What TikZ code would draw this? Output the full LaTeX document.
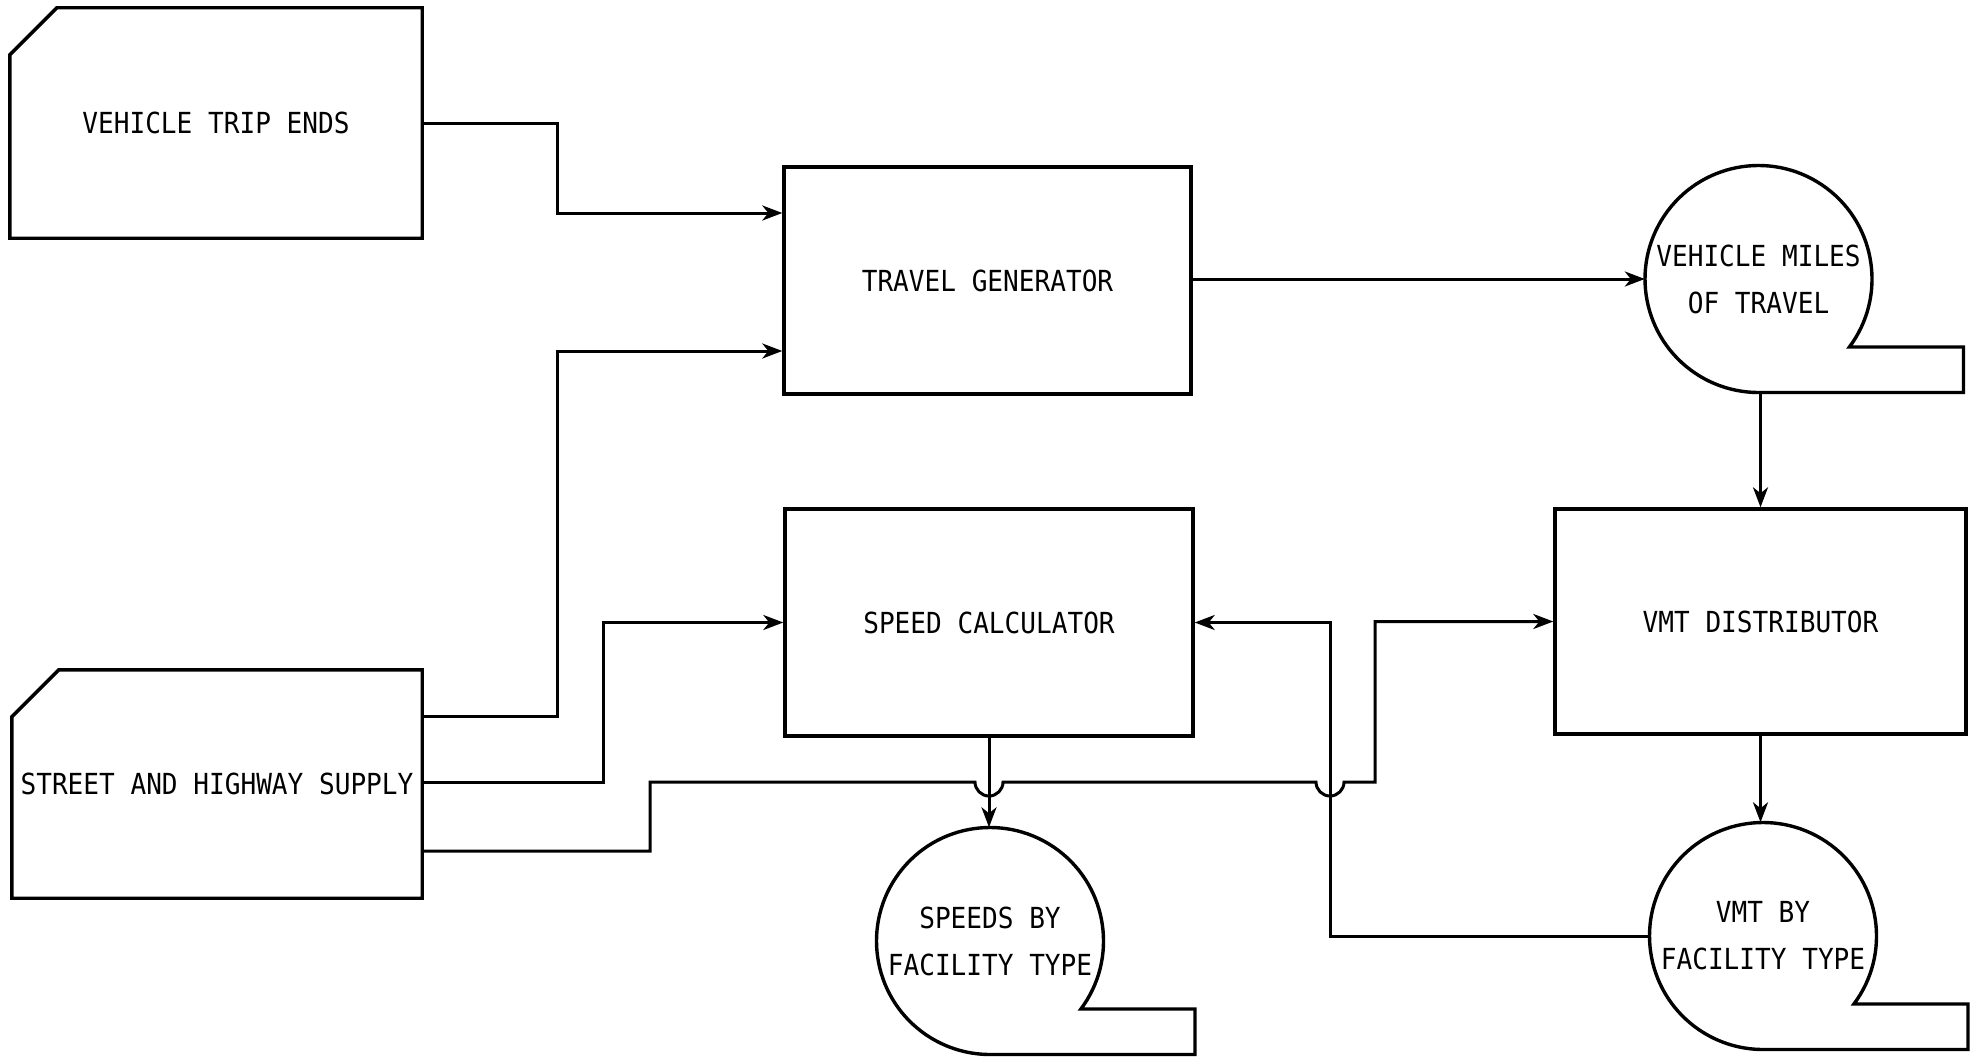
\documentclass[tikz,border=0pt]{standalone}
\usepackage{fontspec}
\newfontfamily\leroy[FakeStretch=0.9]{DejaVu Sans Mono}
\usetikzlibrary{arrows.meta,calc}
\tikzset{
  box/.style={line width=3.4pt, line join=miter, draw=black},
  conn/.style={line width=3pt, draw=black, -{Stealth[length=20pt,width=15pt,inset=6pt]}},
  lbl/.style={font=\leroy\fontsize{29}{47}\selectfont, align=center, inner sep=0pt},
  rectnode/.style={lbl, rectangle, draw=none},
  tapenode/.style={lbl, circle, draw=none, minimum size=227pt}
}
\newcommand\tapeoutline[1]{%
  \draw[box] ($(#1.center)+(36.8:113.5)$) arc[start angle=36.8, end angle=-270, radius=113.5]
    -- ++(205,0) -- ++(0,-45.5) -- cycle;}
\newcommand\cardoutline[1]{%
  \draw[box] (#1.south west) -- ($(#1.north west)+(0,47)$) -- ($(#1.north west)+(47,0)$)
    -- (#1.north east) -- (#1.south east) -- cycle;}
\begin{document}
\begin{tikzpicture}[x=1pt,y=-1pt]
\path[use as bounding box] (0,0) rectangle (1978,1057);

% input cards
\node[rectnode, minimum width=412pt, minimum height=230pt] (vte) at (216,123) {VEHICLE TRIP ENDS};
\cardoutline{vte}
\node[rectnode, minimum width=410pt, minimum height=228pt] (shs) at (217,784) {STREET AND HIGHWAY SUPPLY};
\cardoutline{shs}

% process boxes
\node[rectnode, box, minimum width=407pt, minimum height=227pt] (tg) at (987.5,280.5) {TRAVEL GENERATOR};
\node[rectnode, box, minimum width=408pt, minimum height=227pt] (sc) at (989,622.5) {SPEED CALCULATOR};
\node[rectnode, box, minimum width=411pt, minimum height=225pt] (vd) at (1760.5,621.5) {VMT DISTRIBUTOR};

% tapes
\node[tapenode] (vmt) at (1758.5,279) {VEHICLE MILES\\OF TRAVEL};
\tapeoutline{vmt}
\node[tapenode] (sft) at (990,941) {SPEEDS BY\\FACILITY TYPE};
\tapeoutline{sft}
\node[tapenode] (vft) at (1763,936) {VMT BY\\FACILITY TYPE};
\tapeoutline{vft}

% connectors
\draw[conn] (vte.east) -| (557,213) -- (tg.west |- 0,213);
\draw[conn] (shs.east |- 0,716) -| (557,351) -- (tg.west |- 0,351);
\draw[conn] (shs.east |- 0,782) -- (603,782) |- (sc.west);
\draw[conn] (shs.east |- 0,851) -- (650,851) -- (650,782) -- (975,782)
   arc[start angle=180, end angle=0, radius=14] -- (1316,782)
   arc[start angle=180, end angle=0, radius=14] -- (1375,782) |- (vd.west);
\draw[conn] (vft.west) -- (1330,936) |- (sc.east);
\draw[conn] (vmt.west -| tg.east) -- (vmt.west);
\draw[conn] (vd.north |- vmt.south) -- (vd.north);
\draw[conn] (vd.south) -- (vd.south |- vft.north);
\draw[conn] (sc.south) -- (sc.south |- sft.north);
\end{tikzpicture}
\end{document}
